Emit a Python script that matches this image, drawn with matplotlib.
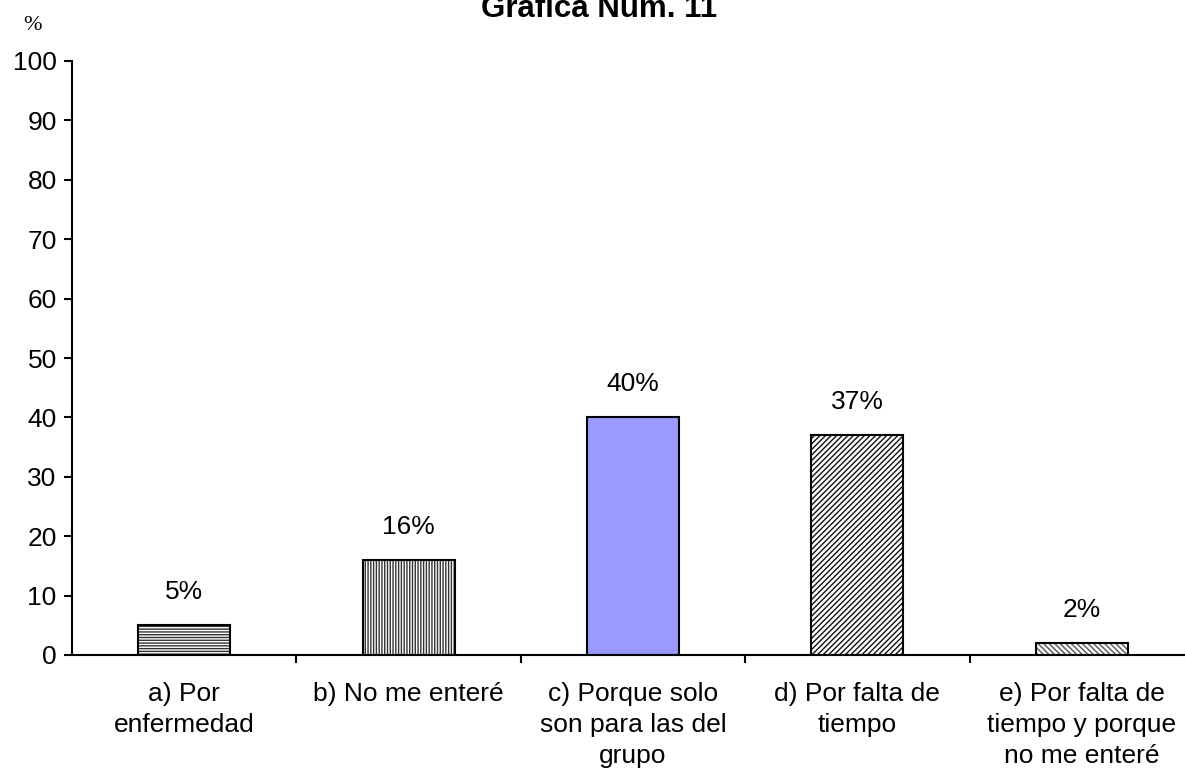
import matplotlib.pyplot as plt

categories = ["a) Por\nenfermedad", "b) No me enteré", "c) Porque solo\nson para las del\ngrupo",
              "d) Por falta de\ntiempo", "e) Por falta de\ntiempo y porque\nno me enteré"]
values = [5, 16, 40, 37, 2]
labels = ["5%", "16%", "40%", "37%", "2%"]
yticks = [0, 10, 20, 30, 40, 50, 60, 70, 80, 90, 100]

plt.rcParams["font.family"] = ["Liberation Sans", "DejaVu Sans"]
plt.rcParams["hatch.linewidth"] = 1.0
fs = 19

fig = plt.figure(figsize=(11.85, 7.73), dpi=100)
ax = fig.add_axes([72 / 1185, 1 - 655 / 773, (1194 - 72) / 1185, (655 - 61) / 773])

hatches = ["------", "||||||", None, "//////", "\\\\\\\\\\\\"]
faces = ["white", "white", "#9999ff", "white", "white"]
hcolors = ["#333333", "#333333", "black", "#111111", "#555555"]
for i, v in enumerate(values):
    b = ax.bar(i, v, width=0.41, color=faces[i], edgecolor="black", linewidth=1.5,
               hatch=hatches[i])
    b[0]._hatch_color = plt.matplotlib.colors.to_rgba(hcolors[i])
    ax.text(i, v + 3.6, labels[i], ha="center", va="bottom", fontsize=fs)

ax.set_xlim(-0.5, 4.5)
ax.set_ylim(0, 100)
ax.set_yticks(yticks)
ax.tick_params(axis="y", labelsize=fs, length=6, width=1.5, direction="out", pad=5)
ax.set_xticks([0.5, 1.5, 2.5, 3.5])
ax.set_xticklabels([])
ax.tick_params(axis="x", length=6, width=1.5, direction="out")
for i, c in enumerate(categories):
    ax.text(i, -4.5, c, ha="center", va="top", fontsize=fs, linespacing=1.38)

for s in ["top", "right"]:
    ax.spines[s].set_visible(False)
ax.spines["left"].set_linewidth(1.5)
ax.spines["bottom"].set_linewidth(1.5)

fig.text(599 / 1185, 1 - 17 / 773, "Gráfica Núm. 11", ha="center", va="baseline",
         fontsize=22.5, fontweight="bold")
fig.text(33 / 1185, 1 - 26 / 773, "%", ha="center", va="center", fontsize=16,
         family="Liberation Serif")

fig.savefig("out.png", dpi=100)
